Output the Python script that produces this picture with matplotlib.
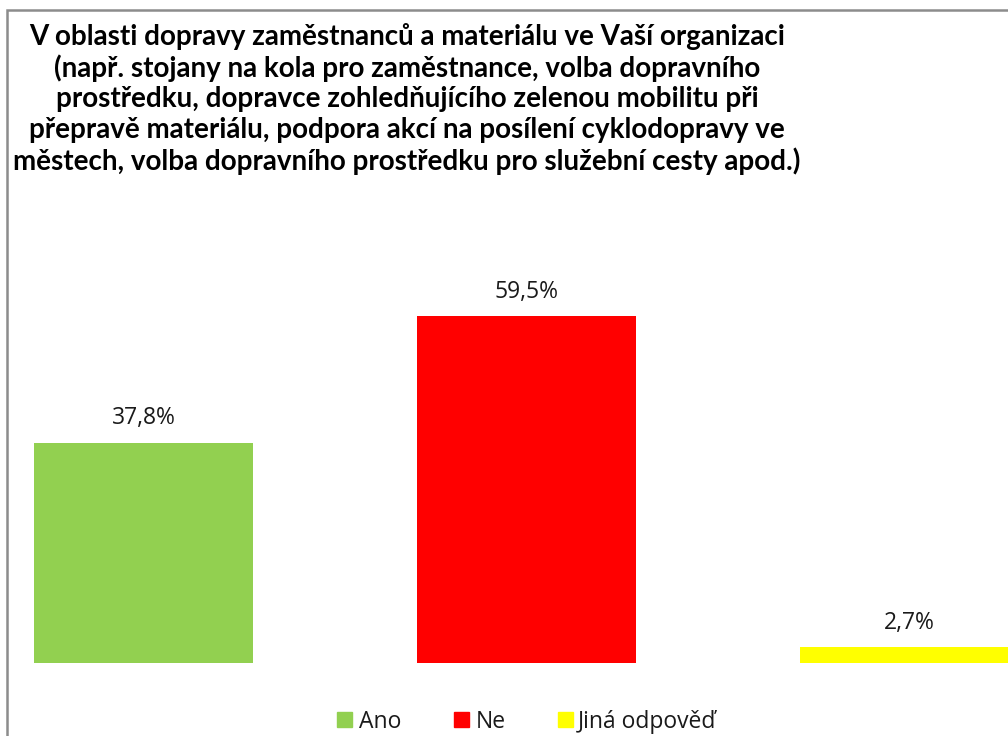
import matplotlib
matplotlib.use("Agg")
import matplotlib.pyplot as plt
from matplotlib.patches import Rectangle

categories = ["Ano", "Ne", "Jiná odpověď"]
values = [37.8, 59.5, 2.7]
colors = ["#92d050", "#ff0000", "#ffff00"]
title = ("V oblasti dopravy zaměstnanců a materiálu ve Vaší organizaci\n"
         "(např. stojany na kola pro zaměstnance, volba dopravního\n"
         "prostředku, dopravce zohledňujícího zelenou mobilitu při\n"
         "přepravě materiálu, podpora akcí na posílení cyklodopravy ve\n"
         "městech, volba dopravního prostředku pro služební cesty apod.)")

W, H = 1008, 736
fig = plt.figure(figsize=(W / 100, H / 100), dpi=100)
fig.patch.set_facecolor("white")

# axes: baseline at y=663 px from top, 100% -> 583 px
ax = fig.add_axes([0, 73 / H, 1, 583 / H])
x = list(range(len(categories)))
bars = ax.bar(x, values, width=219 / 383, color=colors)
ax.set_xlim(-143.5 / 383, (W - 143.5) / 383)
ax.set_ylim(0, 100)
ax.axis("off")

for xi, v in zip(x, values):
    ax.annotate(f"{v:.1f}%".replace(".", ","), (xi, v), xytext=(0, 9),
                textcoords="offset points", ha="center", va="bottom",
                fontsize=16.5, family="Open Sans", color="#1a1a1a")

fig.text(407 / W, 1 - 23 / H, title, ha="center", va="top",
         fontsize=20, fontweight="bold", family="Lato", linespacing=1.2)

# legend drawn manually
leg_sq = [337, 454, 558]
leg_tx = [359, 476, 578]
yc = 1 - 719 / H
for sx, tx, c, lab in zip(leg_sq, leg_tx, colors, categories):
    fig.patches.append(Rectangle((sx / W, yc - 7.5 / H), 15 / W, 15 / H,
                                 transform=fig.transFigure, color=c))
    fig.text(tx / W, yc, lab, ha="left", va="center_baseline",
             fontsize=16.5, family="Open Sans", color="#1a1a1a")

border = Rectangle((7 / W, -0.1), 1.2, 1 - 10 / H + 0.1, transform=fig.transFigure,
                   fill=False, edgecolor="#8c8c8c", linewidth=1.8)
fig.patches.append(border)

fig.savefig("out.png", dpi=100, facecolor="white")
